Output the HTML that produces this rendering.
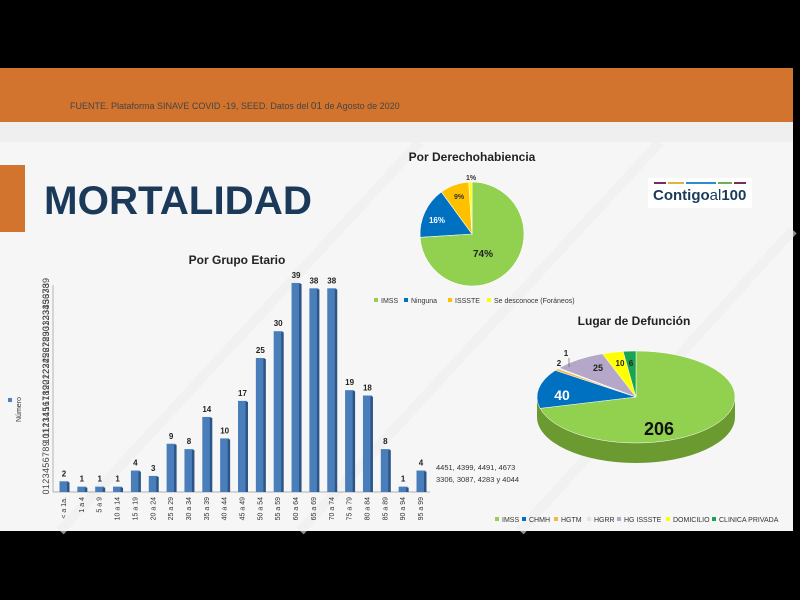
<!DOCTYPE html>
<html><head><meta charset="utf-8"><style>
html,body{margin:0;padding:0;background:#000;}
#c{position:relative;width:800px;height:600px;overflow:hidden;background:#000;font-family:"Liberation Sans",sans-serif;}
svg{position:absolute;left:0;top:0;}
</style></head><body><div id="c">
<svg id="s" width="800" height="600" xmlns="http://www.w3.org/2000/svg">
<rect x="0" y="68" width="793" height="463" fill="#f6f6f6"/>
<rect x="0" y="68" width="793" height="54" fill="#d2742e"/>
<rect x="0" y="122" width="793" height="20" fill="#efefef"/>
<g stroke="#efefef" stroke-width="10" opacity="0.6">
<line x1="60" y1="531" x2="420" y2="142"/><line x1="300" y1="531" x2="660" y2="142"/><line x1="520" y1="531" x2="793" y2="230"/>
</g>
<text x="70" y="109" font-size="9" fill="#444">FUENTE. Plataforma SINAVE COVID -19, SEED. Datos del <tspan font-size="10">01</tspan> de Agosto de 2020</text>
<rect x="0" y="165" width="25" height="67" fill="#d2742e"/>
<text x="44" y="214" font-size="40" font-weight="bold" fill="#1b3a5a" textLength="268" lengthAdjust="spacingAndGlyphs">MORTALIDAD</text>
<rect x="648" y="178" width="104" height="30" fill="#fff"/>
<g stroke-width="2"><line x1="654" y1="183" x2="666" y2="183" stroke="#7b2d5a"/><line x1="668" y1="183" x2="684" y2="183" stroke="#e3b341"/><line x1="686" y1="183" x2="716" y2="183" stroke="#2b8ccf"/><line x1="718" y1="183" x2="732" y2="183" stroke="#6fb04a"/><line x1="734" y1="183" x2="746" y2="183" stroke="#7b2d5a"/></g>
<text x="653" y="200" font-size="15" font-weight="bold" fill="#1b3a5a">Contigo<tspan font-weight="normal">al</tspan>100</text>
<text x="472" y="161" font-size="12" font-weight="bold" fill="#222" text-anchor="middle">Por Derechohabiencia</text>
<g id="p1"></g>
<g font-size="7" fill="#333">
<rect x="374" y="298" width="4" height="4" fill="#92d050"/><text x="381" y="303">IMSS</text>
<rect x="404" y="298" width="4" height="4" fill="#0070c0"/><text x="411" y="303">Ninguna</text>
<rect x="448" y="298" width="4" height="4" fill="#ffc000"/><text x="455" y="303">ISSSTE</text>
<rect x="487" y="298" width="4" height="4" fill="#ffff00"/><text x="494" y="303">Se desconoce (Foráneos)</text>
</g>
<text x="237" y="264" font-size="12" font-weight="bold" fill="#222" text-anchor="middle">Por Grupo Etario</text>
<g id="bars"></g>
<rect x="8" y="398" width="4" height="4" fill="#4f81bd"/>
<text transform="translate(21,422) rotate(-90)" font-size="7" fill="#333">Número</text>
<text x="436" y="470" font-size="7.5" fill="#333">4451, 4399, 4491, 4673</text>
<text x="436" y="482" font-size="7.5" fill="#333">3306, 3087, 4283 y 4044</text>
<text x="634" y="325" font-size="12" font-weight="bold" fill="#222" text-anchor="middle">Lugar de Defunción</text>
<g id="p2"></g>
<g font-size="7" fill="#333">
<rect x="495" y="517" width="4" height="4" fill="#92d050"/><text x="502" y="522">IMSS</text>
<rect x="522" y="517" width="4" height="4" fill="#0070c0"/><text x="529" y="522">CHMH</text>
<rect x="554" y="517" width="4" height="4" fill="#f4b942"/><text x="561" y="522">HGTM</text>
<rect x="587" y="517" width="4" height="4" fill="#dde4ee"/><text x="594" y="522">HGRR</text>
<rect x="617" y="517" width="4" height="4" fill="#b4a7c8"/><text x="624" y="522">HG ISSSTE</text>
<rect x="666" y="517" width="4" height="4" fill="#ffff00"/><text x="673" y="522">DOMICILIO</text>
<rect x="712" y="517" width="4" height="4" fill="#1aa350"/><text x="719" y="522">CLINICA PRIVADA</text>
</g>
</svg>
<script>
var NS="http://www.w3.org/2000/svg";
function el(p,t,a,txt){var e=document.createElementNS(NS,t);for(var k in a)e.setAttribute(k,a[k]);if(txt!==undefined)e.textContent=txt;p.appendChild(e);return e;}
(function(){var g=document.getElementById('p1'),cx=472,cy=234,r=52,v=[74,16,9,1],c=['#92d050','#0070c0','#ffc000','#ffff00'],a=0;
v.forEach(function(x,i){var a2=a+x/100*2*Math.PI;var x1=cx+r*Math.sin(a),y1=cy-r*Math.cos(a),x2=cx+r*Math.sin(a2),y2=cy-r*Math.cos(a2);
el(g,'path',{d:'M'+cx+','+cy+'L'+x1+','+y1+'A'+r+','+r+' 0 '+(a2-a>Math.PI?1:0)+' 1 '+x2+','+y2+'Z',fill:c[i],stroke:'#fff','stroke-width':0.6});a=a2;});
el(g,'text',{x:483,y:257,'font-size':10,'font-weight':'bold',fill:'#222','text-anchor':'middle'},'74%');
el(g,'text',{x:437,y:223,'font-size':8,'font-weight':'bold',fill:'#fff','text-anchor':'middle'},'16%');
el(g,'text',{x:459,y:199,'font-size':7,'font-weight':'bold',fill:'#333','text-anchor':'middle'},'9%');
el(g,'text',{x:471,y:180,'font-size':7,'font-weight':'bold',fill:'#333','text-anchor':'middle'},'1%');})();
(function(){var g=document.getElementById('bars'),v=[2,1,1,1,4,3,9,8,14,10,17,25,30,39,38,38,19,18,8,1,4],
L=['< a 1a.','1 a 4','5 a 9','10 a 14','15 a 19','20 a 24','25 a 29','30 a 34','35 a 39','40 a 44','45 a 49','50 a 54','55 a 59','60 a 64','65 a 69','70 a 74','75 a 79','80 a 84','85 a 89','90 a 94','95 a 99'];
var base=492,u=5.36,x0=64,st=17.85;
el(g,'line',{x1:53,y1:base,x2:430,y2:base,stroke:'#999','stroke-width':0.7});
el(g,'line',{x1:53,y1:285,x2:53,y2:base,stroke:'#999','stroke-width':0.7});
for(var t=0;t<=39;t++){var y=base-t*u;el(g,'text',{transform:'translate(49,'+(y+0)+') rotate(-90)','font-size':9,fill:'#444','text-anchor':'middle'},t);}
v.forEach(function(x,i){var cx=x0+i*st,h=x*u;
el(g,'rect',{x:cx-4.5,y:base-h,width:9,height:h,fill:'#4a7ebb'});
el(g,'rect',{x:cx+3,y:base-h+1,width:2.5,height:h-1,fill:'#2c5585'});
el(g,'text',{x:cx,y:base-h-5,'font-size':8,'font-weight':'bold',fill:'#222','text-anchor':'middle'},x);
el(g,'text',{transform:'translate('+(cx+2)+',497) rotate(-90)','font-size':7,fill:'#333','text-anchor':'end'},L[i]);});})();
(function(){var g=document.getElementById('p2'),cx=636,cy=397,rx=99,ry=46,d=20,v=[206,40,2,1,25,10,6],c=['#92d050','#0070c0','#f4b942','#dde4ee','#b4a7c8','#ffff00','#1aa350'],T=290;
function P(a,dy){return [cx+rx*Math.sin(a),cy-ry*Math.cos(a)+(dy||0)];}
el(g,'path',{d:'M'+(cx-rx)+','+cy+'A'+rx+','+ry+' 0 0 0 '+(cx+rx)+','+cy+'L'+(cx+rx)+','+(cy+d)+'A'+rx+','+ry+' 0 0 1 '+(cx-rx)+','+(cy+d)+'Z',fill:'#6a9a30'});
var a=0;v.forEach(function(x,i){var a2=a+x/T*2*Math.PI,p1=P(a),p2=P(a2);
el(g,'path',{d:'M'+cx+','+cy+'L'+p1+'A'+rx+','+ry+' 0 '+(a2-a>Math.PI?1:0)+' 1 '+p2+'Z',fill:c[i],stroke:'#fff','stroke-width':0.5});a=a2;});
el(g,'text',{x:659,y:435,'font-size':18,'font-weight':'bold',fill:'#111','text-anchor':'middle'},'206');
el(g,'text',{x:562,y:400,'font-size':14,'font-weight':'bold',fill:'#fff','text-anchor':'middle'},'40');
el(g,'text',{x:598,y:371,'font-size':9,'font-weight':'bold',fill:'#222','text-anchor':'middle'},'25');
el(g,'text',{x:620,y:366,'font-size':8,'font-weight':'bold',fill:'#222','text-anchor':'middle'},'10');
el(g,'text',{x:631,y:366,'font-size':8,'font-weight':'bold',fill:'#222','text-anchor':'middle'},'6');
el(g,'text',{x:559,y:366,'font-size':8,'font-weight':'bold',fill:'#222','text-anchor':'middle'},'2');
el(g,'text',{x:566,y:356,'font-size':8,'font-weight':'bold',fill:'#222','text-anchor':'middle'},'1');
el(g,'line',{x1:569,y1:358,x2:569,y2:367,stroke:'#555','stroke-width':0.6});})();
</script>
</div></body></html>
